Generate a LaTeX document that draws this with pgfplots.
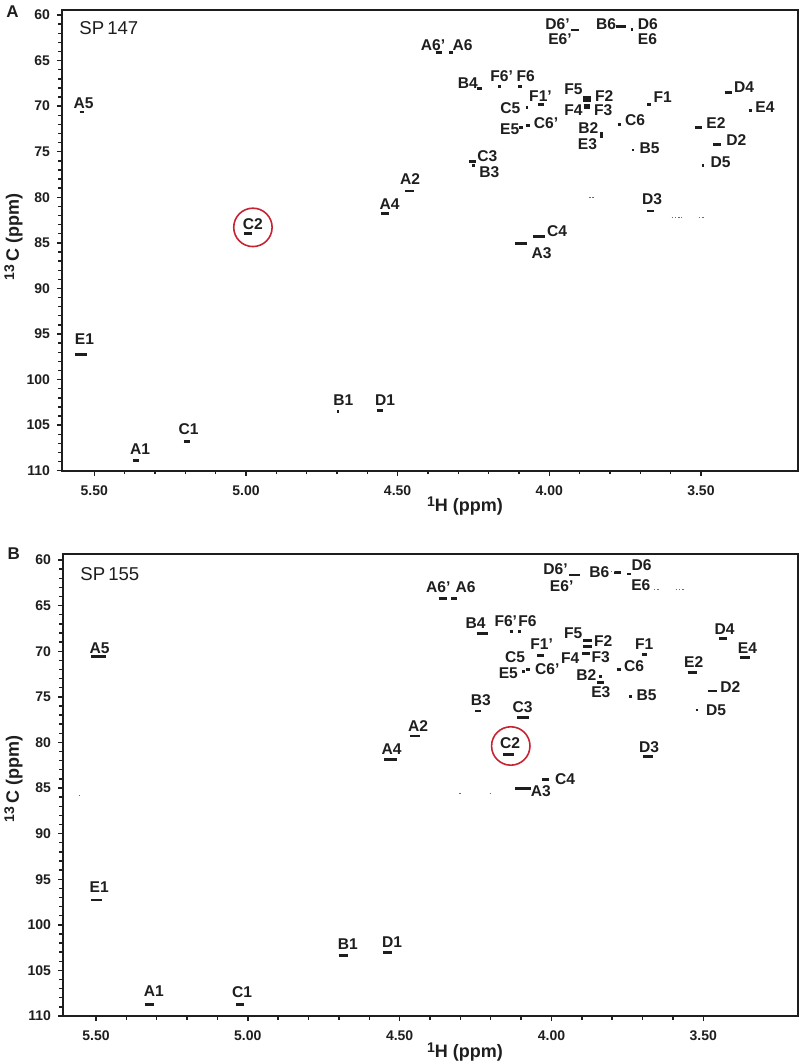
\documentclass[border=0pt]{standalone}
\usepackage{fontspec}
\setmainfont{Liberation Sans}
\usepackage{pgfplots}
\usepackage{pgfplotstable}
\pgfplotsset{compat=1.18}
\definecolor{spInk}{RGB}{30,30,30}
\definecolor{spRed}{RGB}{200,35,50}
\definecolor{spNoise}{RGB}{215,55,70}

% peaks: centre 1H (ppm), 13C (ppm), bar width (ppm)
\pgfplotstableread{
x y w
5.541 70.65 0.015
4.993 83.97 0.026
4.542 81.77 0.025
5.544 97.25 0.040
5.362 108.85 0.020
5.194 106.76 0.022
4.696 103.47 0.008
4.559 103.36 0.020
4.365 64.14 0.020
4.323 64.14 0.013
3.915 61.65 0.027
3.765 61.28 0.033
3.727 61.57 0.009
4.230 68.05 0.014
4.164 67.80 0.011
4.095 67.80 0.013
4.027 69.80 0.019
4.074 70.17 0.007
4.092 72.37 0.014
4.070 72.15 0.014
3.876 69.03 0.024
3.876 69.40 0.024
3.877 69.88 0.020
3.877 70.17 0.020
3.768 72.00 0.012
3.828 73.00 0.010
3.828 73.35 0.008
3.670 69.80 0.014
3.725 74.80 0.006
3.410 68.50 0.024
3.337 70.50 0.011
3.509 72.30 0.024
3.447 74.20 0.027
3.494 76.50 0.006
4.253 76.10 0.022
4.250 76.50 0.010
4.460 79.30 0.030
3.666 81.50 0.022
4.034 84.33 0.040
4.092 85.06 0.040
}\peaksA

\pgfplotstableread{
x y w
5.492 70.60 0.050
4.530 81.85 0.044
5.497 97.28 0.036
5.324 108.70 0.030
5.025 108.70 0.028
4.686 103.35 0.030
4.540 103.06 0.030
4.358 64.20 0.027
4.320 64.20 0.021
3.924 61.64 0.038
3.782 61.35 0.024
3.744 61.54 0.013
4.228 68.04 0.037
4.132 67.86 0.011
4.105 67.86 0.011
4.037 70.49 0.024
4.092 72.25 0.008
4.076 71.99 0.013
3.881 68.85 0.030
3.881 69.50 0.030
3.886 70.23 0.025
3.778 71.99 0.015
3.838 72.80 0.010
3.838 73.45 0.022
3.693 70.34 0.016
3.739 75.00 0.011
3.434 68.59 0.027
3.362 70.67 0.033
3.537 72.35 0.030
3.471 74.36 0.030
3.521 76.45 0.009
4.241 76.56 0.019
4.095 77.25 0.040
4.448 79.30 0.033
4.142 81.31 0.035
3.683 81.56 0.033
4.020 84.05 0.022
4.094 85.03 0.050
}\peaksB

\pgfplotstableread{
x y w
3.859 79.97 0.020
3.580 82.17 0.033
3.499 82.17 0.016
}\noiseA

\pgfplotstableread{
x y w
5.553 85.77 0.008
4.300 85.55 0.006
4.200 85.55 0.006
3.655 63.18 0.016
3.578 63.18 0.026
3.798 61.30 0.013
}\noiseB

\pgfplotsset{
  hsqc/.style={
    scale only axis, anchor=north west,
    x dir=reverse, y dir=reverse, ymax=110,
    xtick={3.5,4,4.5,5,5.5}, xticklabels={3.50,4.00,4.50,5.00,5.50},
    ytick={60,65,...,110},
    minor x tick num=4, minor y tick num=4,
    tick align=outside, tick pos=left,
    major tick length=2.5pt, minor tick length=1.8pt,
    tick style={spInk, line width=0.7pt},
    axis line style={spInk, line width=0.8pt},
    /pgf/number format/assume math mode=true,
    tick label style={font=\bfseries\fontsize{7}{8}\selectfont, text=spInk},
    xticklabel style={yshift=-1.5pt},
    clip=false,
  },
  peakbar/.style={quiver={u=-\thisrow{w},v=0}, spInk, line width=1.4pt},
  noisebar/.style={quiver={u=-\thisrow{w},v=0}, spNoise, line width=0.5pt, dash pattern=on 0.8pt off 0.8pt},
}
\tikzset{lab/.style={inner sep=0pt, text=spInk, font=\bfseries\fontsize{7.8}{8}\selectfont}}
\newcommand{\sups}[1]{\raisebox{0.5ex}{\fontsize{7}{7}\selectfont #1}}

\begin{document}
\begin{tikzpicture}
\useasboundingbox (0,0) rectangle (400pt,-530.5pt);

\begin{axis}[hsqc, at={(31pt,-5pt)}, width=368pt, height=230.35pt,
  xmin=3.180, xmax=5.6065, ymin=59.45]
\addplot[peakbar] table[x expr=\thisrow{x}+0.5*\thisrow{w}, y=y] {\peaksA};
\addplot[noisebar] table[x expr=\thisrow{x}+0.5*\thisrow{w}, y=y] {\noiseA};
\draw[spRed, line width=0.8pt] (axis cs:4.977,83.3) circle[radius=9.6pt];
\end{axis}

\begin{axis}[hsqc, at={(31.5pt,-277pt)}, width=367.5pt, height=231pt,
  xmin=3.1881, xmax=5.6087, ymin=59.34]
\addplot[peakbar] table[x expr=\thisrow{x}+0.5*\thisrow{w}, y=y] {\peaksB};
\addplot[noisebar] table[x expr=\thisrow{x}+0.5*\thisrow{w}, y=y] {\noiseB};
\draw[spRed, line width=0.8pt] (axis cs:4.134,80.39) circle[radius=9.6pt];
\end{axis}

\begin{scope}[x=0.5pt, y=-0.5pt]
% panel furniture
\node[font=\bfseries\fontsize{8.5}{9}\selectfont, text=spInk] at (12.5,11.7) {A};
\node[font=\bfseries\fontsize{8.5}{9}\selectfont, text=spInk] at (13.7,554) {B};
\node[anchor=west, inner sep=0pt, text=spInk, font=\fontsize{9.3}{10}\selectfont] at (79,28) {SP\,147};
\node[anchor=west, inner sep=0pt, text=spInk, font=\fontsize{9.3}{10}\selectfont] at (80,574.5) {SP\,155};
\node[text=spInk, font=\bfseries\fontsize{9}{10}\selectfont] at (465,506) {\sups{1}H (ppm)};
\node[text=spInk, font=\bfseries\fontsize{9}{10}\selectfont] at (465,1052) {\sups{1}H (ppm)};
\node[rotate=90, text=spInk, font=\bfseries\fontsize{9}{10}\selectfont] at (13.5,237) {\sups{13}\,C (ppm)};
\node[rotate=90, text=spInk, font=\bfseries\fontsize{9}{10}\selectfont] at (13.5,779) {\sups{13}\,C (ppm)};

% peak labels, panel A
\foreach \px/\py/\t in {557.5/24.2/D6’, 560/39.2/E6’, 606/24.2/B6, 647.8/24.2/D6, 647.5/39.2/E6,
  433/44.7/A6’, 462.5/44.7/A6, 467.8/82.8/B4, 501.7/76.2/F6’, 525.8/76.2/F6,
  540.5/96.2/F1’, 573.5/89.2/F5, 604.2/96.2/F2, 573.5/110.3/F4, 603.3/109.8/F3,
  510.3/108.3/C5, 509.7/128.8/E5, 546/123.3/C6’, 588.3/128.3/B2, 587.5/144/E3,
  635/120.2/C6, 662.8/97.2/F1, 649.7/148.2/B5, 744/87.2/D4, 765/107.5/E4,
  716/123.3/E2, 736.3/140/D2, 720.5/162.5/D5, 487.3/155.8/C3, 489.3/172.5/B3,
  410/178.7/A2, 652/199.5/D3, 557/230.8/C4, 541.7/252.8/A3, 83.7/103.3/A5,
  252.8/224.2/C2, 389.5/203.8/A4, 84.5/339.3/E1, 140/449.2/A1, 188.7/428.8/C1,
  343.3/400.5/B1, 385/400/D1}
  {\node[lab] at (\px,\py) {\t};}

% peak labels, panel B
\foreach \px/\py/\t in {555.5/568.7/D6’, 561.7/585.8/E6’, 599.3/571.7/B6, 641.7/565.5/D6, 640.8/585.2/E6,
  438.3/586.8/A6’, 465.5/586.8/A6, 475.5/622.7/B4, 505.8/620.8/F6’, 527.5/620.8/F6,
  541.7/644.5/F1’, 573.3/633.5/F5, 603.3/640.8/F2, 515/656.7/C5, 570.3/657.8/F4,
  600.8/656.7/F3, 508.3/672.8/E5, 547.2/668.8/C6’, 586.3/675/B2, 600.8/692/E3,
  634/666.2/C6, 644.2/644.5/F1, 646.7/695/B5, 724.7/629.2/D4, 747.5/647.8/E4,
  693.7/662.2/E2, 730.3/686.7/D2, 716/709.7/D5, 480.8/699.8/B3, 522.7/706.7/C3,
  418/725.8/A2, 510/742.8/C2, 649/746.7/D3, 565/778.8/C4, 540.8/790.8/A3,
  99.7/648/A5, 391.5/749.2/A4, 99.2/886.8/E1, 153.8/991.3/A1, 242.2/992.2/C1,
  347.8/944.5/B1, 392.2/942.2/D1}
  {\node[lab] at (\px,\py) {\t};}
\end{scope}
\end{tikzpicture}
\end{document}
